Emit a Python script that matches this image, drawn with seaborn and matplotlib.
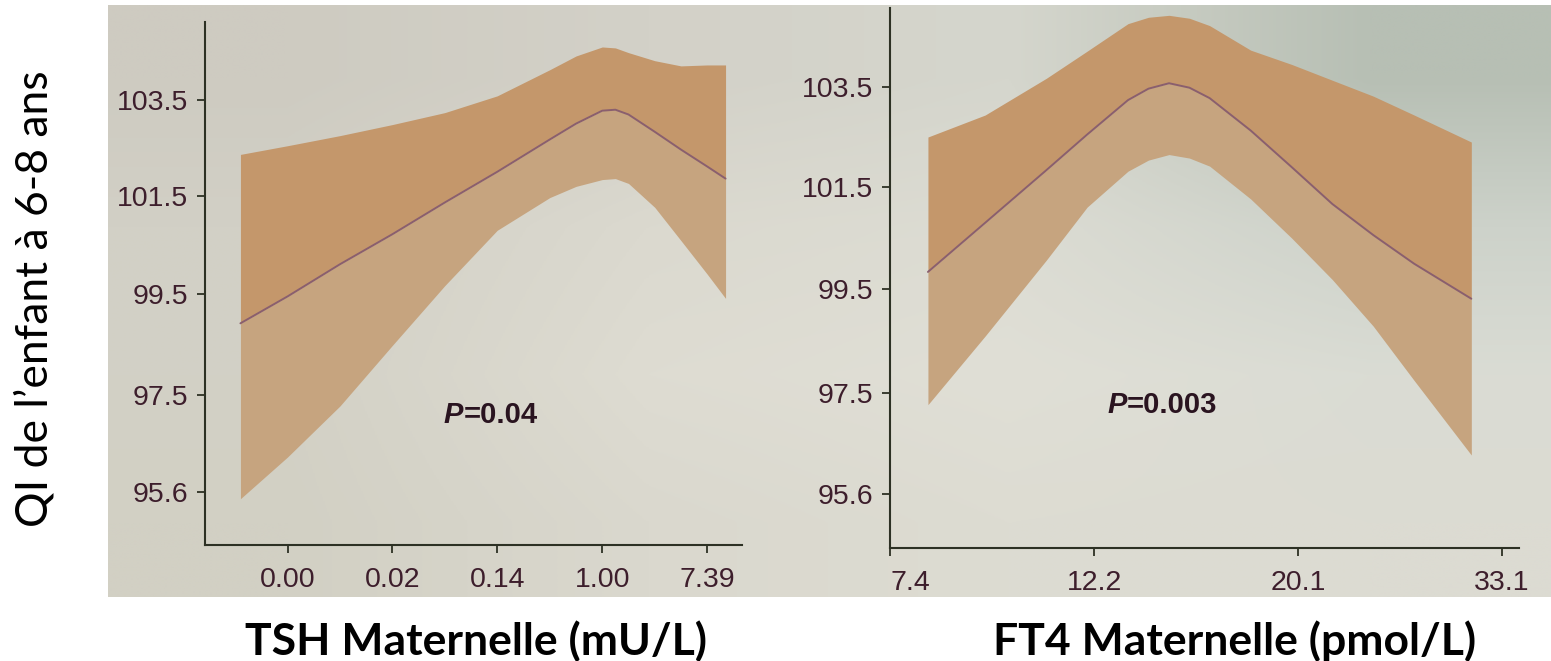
import numpy as np
import matplotlib
matplotlib.use("Agg")
import matplotlib.pyplot as plt
import seaborn as sns
from matplotlib.ticker import NullLocator
from matplotlib.colors import to_rgb

# TSH panel (mU/L, log scale), fitted IQ with 95% band
tsh_x = [0.00101, 0.00248, 0.00674, 0.0183, 0.0498, 0.135, 0.368, 0.607,
         1.0, 1.284, 1.649, 2.718, 4.482, 7.389, 10.49]
tsh_fit = [98.92, 99.46, 100.11, 100.72, 101.37, 102.00, 102.67, 103.00,
           103.27, 103.29, 103.19, 102.83, 102.46, 102.11, 101.86]
tsh_upper = [102.36, 102.54, 102.75, 102.98, 103.23, 103.58, 104.13, 104.42,
             104.61, 104.59, 104.49, 104.32, 104.21, 104.23, 104.23]
tsh_lower = [95.47, 96.28, 97.28, 98.48, 99.68, 100.80, 101.47, 101.70,
             101.84, 101.86, 101.76, 101.27, 100.59, 99.91, 99.42]
tsh_ticks = [0.00248, 0.0183, 0.135, 1.0, 7.389]
tsh_labels = ["0.00", "0.02", "0.14", "1.00", "7.39"]

# FT4 panel (pmol/L, log scale)
ft4_x = [8.12, 9.34, 10.85, 11.99, 13.25, 13.93, 14.65, 15.40, 16.18, 17.89,
         19.78, 21.85, 24.15, 26.69, 30.70]
ft4_fit = [99.83, 100.79, 101.83, 102.54, 103.23, 103.46, 103.57, 103.48,
           103.27, 102.62, 101.89, 101.16, 100.55, 99.99, 99.31]
ft4_upper = [102.49, 102.93, 103.67, 104.22, 104.78, 104.91, 104.95, 104.89,
             104.74, 104.24, 103.95, 103.63, 103.31, 102.93, 102.39]
ft4_lower = [97.28, 98.59, 100.06, 101.10, 101.81, 102.03, 102.14, 102.07,
             101.91, 101.26, 100.49, 99.68, 98.78, 97.74, 96.33]
ft4_ticks = [7.4, 12.2, 20.1, 33.1]
ft4_labels = ["7.4", "12.2", "20.1", "33.1"]

iq_ticks = [95.6, 97.5, 99.5, 101.5, 103.5]
iq_labels = ["95.6", "97.5", "99.5", "101.5", "103.5"]

sns.set_theme(style="ticks")
plt.rcParams["font.family"] = ["Liberation Sans", "DejaVu Sans"]

W, H = 1551, 661
fig = plt.figure(figsize=(W / 100, H / 100), dpi=100)
fig.patch.set_facecolor("white")

# photographed slide background (soft gradient)
bg = fig.add_axes([108 / W, 1 - 597 / H, 1 - 108 / W, 592 / H], zorder=0)
grid = np.array([
    [to_rgb(c) for c in ("#cecbc1", "#d3d1c8", "#d5d6cd", "#b7bfb4")],
    [to_rgb(c) for c in ("#d2d0c6", "#dbd9cf", "#dcdcd3", "#cdd2ca")],
    [to_rgb(c) for c in ("#d3d1c6", "#dedcd2", "#e0dfd6", "#dadcd4")],
    [to_rgb(c) for c in ("#d2d0c4", "#dad8ce", "#dddcd2", "#dcdbd2")],
])
bg.imshow(grid, aspect="auto", interpolation="bilinear")
bg.set_axis_off()

UPPER_C = "#c4976b"
LOWER_C = "#c6a47f"
LINE_C = "#8a5f6e"
AXIS_C = "#2d3124"
TICK_C = "#3d1e2c"


def draw_panel(rect, x, fit, lo, hi, xticks, xlabels, xlim, ylim, ptxt, ppos):
    ax = fig.add_axes(rect, zorder=1)
    ax.set_facecolor("none")
    ax.set_xscale("log")
    ax.set_yscale("log")
    ax.fill_between(x, fit, hi, color=UPPER_C, lw=0)
    ax.fill_between(x, lo, fit, color=LOWER_C, lw=0)
    sns.lineplot(x=x, y=fit, ax=ax, color=LINE_C, lw=1.4)
    ax.set_xlim(*xlim)
    ax.set_ylim(*ylim)
    ax.set_xticks(xticks, labels=xlabels)
    ax.set_yticks(iq_ticks, labels=iq_labels)
    ax.xaxis.set_minor_locator(NullLocator())
    ax.yaxis.set_minor_locator(NullLocator())
    ax.tick_params(axis="both", direction="out", length=6, width=1.3,
                   color=AXIS_C, labelcolor=TICK_C, labelsize=20.5)
    ax.tick_params(axis="x", pad=10)
    ax.tick_params(axis="y", pad=6)
    sns.despine(ax=ax)
    for s in ("left", "bottom"):
        ax.spines[s].set_color(AXIS_C)
        ax.spines[s].set_linewidth(1.5)
    ax.set_xlabel("")
    ax.set_ylabel("")
    t = ax.text(ppos[0], ppos[1], "P", transform=ax.transAxes, fontsize=21,
                fontweight="bold", fontstyle="italic", color="#2a1420",
                va="center", ha="left")
    ax.annotate(ptxt, xy=(1, 0), xycoords=t, fontsize=21, fontweight="bold",
                color="#2a1420", va="bottom", ha="left")
    return ax


draw_panel([205 / W, 1 - 545 / H, 537 / W, 523 / H],
           tsh_x, tsh_fit, tsh_lower, tsh_upper, tsh_ticks, tsh_labels,
           (0.000514, 14.35), (94.58, 105.14), "=0.04", (0.445, 0.249))
ax2 = draw_panel([890 / W, 1 - 548 / H, 629 / W, 540 / H],
                 ft4_x, ft4_fit, ft4_lower, ft4_upper, ft4_ticks, ft4_labels,
                 (7.4, 34.5), (94.6, 105.1), "=0.003", (0.345, 0.265))
ax2.get_xticklabels()[0].set_ha("left")

fig.text(35 / W, 1 - 299 / H, "QI de l\u2019enfant à 6-8 ans", rotation=90,
         ha="center", va="center", fontsize=32,
         family=["Lato", "DejaVu Sans"], color="black")
fig.text(476 / W, 1 - 641 / H, "TSH Maternelle (mU/L)", ha="center",
         va="center", fontsize=32, fontweight="bold",
         family=["Lato", "DejaVu Sans"], color="black")
fig.text(1235 / W, 1 - 641 / H, "FT4 Maternelle (pmol/L)", ha="center",
         va="center", fontsize=32, fontweight="bold",
         family=["Lato", "DejaVu Sans"], color="black")

fig.savefig("out.png", dpi=100)
